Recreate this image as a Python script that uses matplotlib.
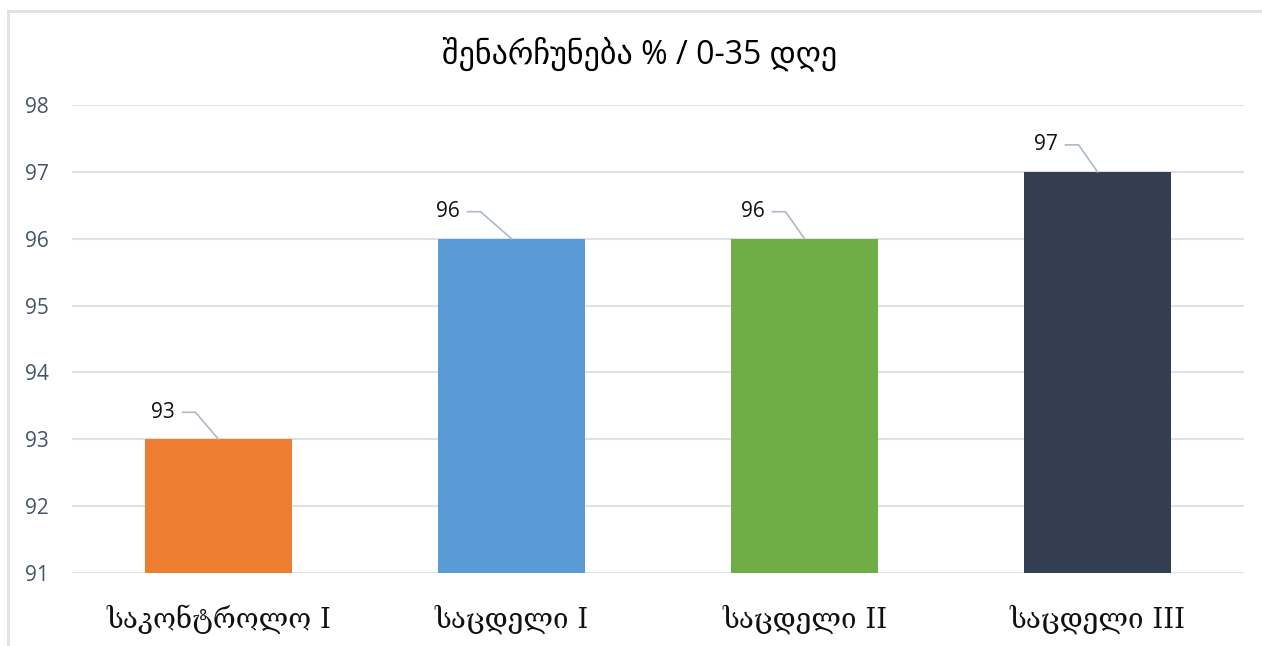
import matplotlib.pyplot as plt
from matplotlib.lines import Line2D

# retention data
groups = ['საკონტროლო I', 'საცდელი I', 'საცდელი II', 'საცდელი III']
retention = [93, 96, 96, 97]
bar_colors = ['#ED7D31', '#5B9BD5', '#70AD47', '#333F50']
y_ticks = [91, 92, 93, 94, 95, 96, 97, 98]
title = 'შენარჩუნება % / 0-35 დღე'

# label leader geometry in pixels (diagonal run to the left of the bar top)
leader_dx = [-23, -31, -19, -19]
leader_dy = 27

W, H = 1262, 646
fig = plt.figure(figsize=(W / 100, H / 100), dpi=100)
ax = fig.add_axes([72 / W, 73 / H, 1172 / W, 468 / H])

x = range(len(groups))
ax.bar(x, retention, width=0.5, color=bar_colors, zorder=3)

ax.set_xlim(-0.5, len(groups) - 0.5)
ax.set_ylim(91, 98)
ax.set_yticks(y_ticks)
ax.set_yticklabels([str(t) for t in y_ticks], family=['Open Sans', 'DejaVu Sans'],
                   fontsize=15, color='#44546A')
ax.set_xticks(list(x))
ax.set_xticklabels(groups, family=['DejaVu Serif'], fontsize=20, color='#111111')
ax.tick_params(axis='y', length=0, pad=17)
ax.tick_params(axis='x', length=0, pad=23)
ax.grid(axis='y', color='#DDE1E8', linewidth=1.5, zorder=0)
for s in ax.spines.values():
    s.set_visible(False)

# data labels with leader lines, built in display pixels from each bar top
for i, v in enumerate(retention):
    dx = leader_dx[i]
    x0, y0 = ax.transData.transform((i, v))
    line = Line2D([x0, x0 + dx, x0 + dx - 13], [y0, y0 + leader_dy, y0 + leader_dy],
                  color='#ADB9CA', linewidth=1.2, zorder=4, transform=None)
    fig.add_artist(line)
    fig.text((x0 + dx - 21) / W, (y0 + leader_dy) / H, str(v), ha='right', va='center',
             fontsize=15, color='#111111', family=['Open Sans', 'DejaVu Sans'])

fig.text(640 / W, 1 - 54 / H, title, ha='center', va='center', fontsize=23,
         color='#000000', family=['Open Sans', 'DejaVu Sans'])

# outer chart frame (left and top edges)
fig.add_artist(Line2D([8 / W, 8 / W], [0, 1 - 11 / H], color='#DDE1E8', linewidth=2,
                      transform=fig.transFigure))
fig.add_artist(Line2D([8 / W, 1], [1 - 11 / H, 1 - 11 / H], color='#DDE1E8', linewidth=2,
                      transform=fig.transFigure))

fig.savefig('out.png', dpi=100)
